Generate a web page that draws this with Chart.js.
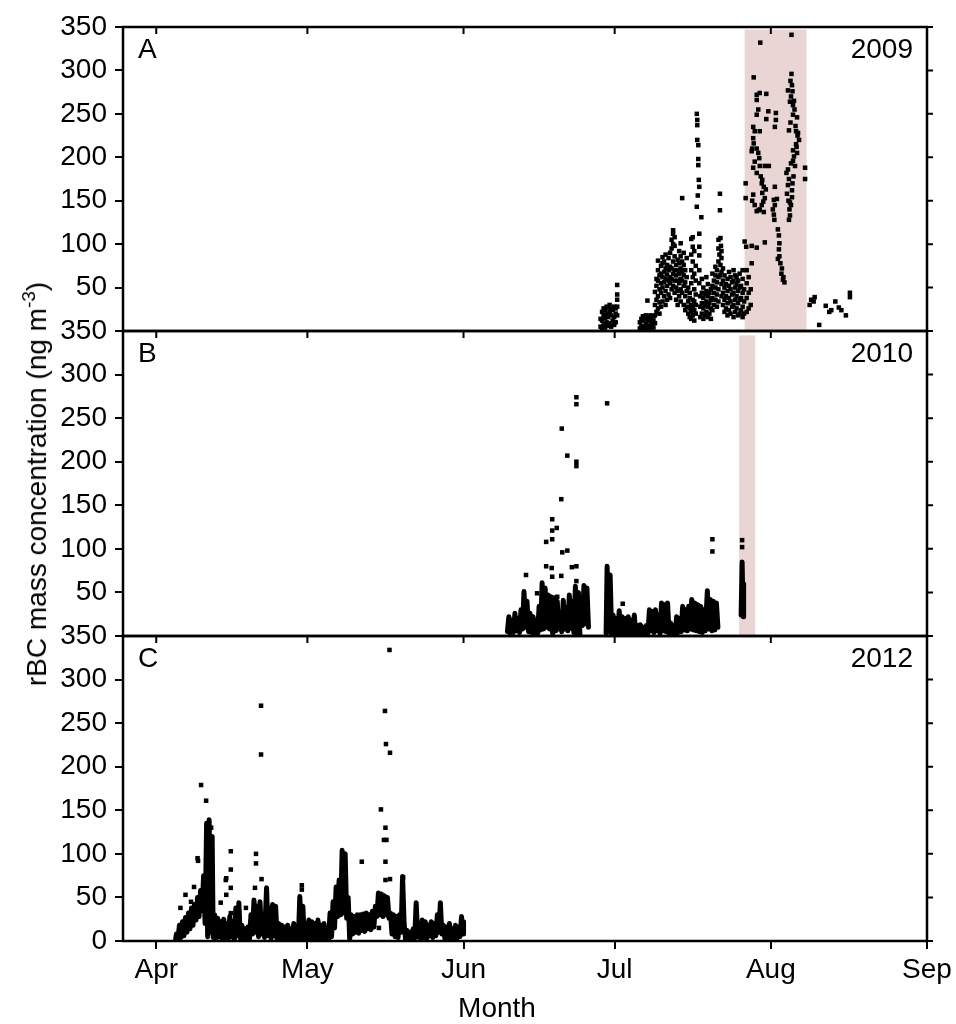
<!DOCTYPE html>
<html>
<head>
<meta charset="utf-8">
<script src="https://cdn.jsdelivr.net/npm/chart.js@4.4.1/dist/chart.umd.min.js"></script>
<style>
  html, body { margin: 0; padding: 0; background: #fff; }
  #wrap { position: relative; width: 956px; height: 1024px; overflow: hidden; }
  #wrap canvas { position: absolute; left: 0; }
  #ytitle {
    position: absolute; left: 37px; top: 484px;
    transform: translate(-50%, -50%) rotate(-90deg);
    white-space: nowrap; color: #000;
    font: 28px 'Liberation Sans', Arial, sans-serif; line-height: 28px;
  }
  #ytitle sup { font-size: 19px; vertical-align: 11px; line-height: 0; }
</style>
</head>
<body>
<div id="wrap">
  <canvas id="panelA" width="956" height="361" style="top:0px"></canvas>
  <canvas id="panelB" width="956" height="365" style="top:301px"></canvas>
  <canvas id="panelC" width="956" height="418" style="top:606px"></canvas>
  <div id="ytitle">rBC mass concentration (ng m<sup>-3</sup>)</div>
</div>
<script>
// x values are days after 1 April
const monthDays = [0, 30, 61, 91, 122, 153];
const monthLabels = ['Apr', 'May', 'Jun', 'Jul', 'Aug', 'Sep'];

// shaded periods: [start day, end day, top value]
const shade2009 = [116.8, 129.1, 347];
const shade2010 = [115.7, 118.9, 345];

// 2009 - [day, values...]
const rows2009 = [
  [88.2, 5, 14], [88.5, 3, 12, 22], [88.8, 8, 18, 26], [89.1, 4, 15, 24],
  [89.4, 10, 20, 28], [89.7, 6, 16, 27], [90.0, 9, 22, 30], [90.3, 5, 18, 25],
  [90.6, 12, 24], [90.9, 7, 16, 28], [91.2, 10, 20, 26], [91.5, 18, 28, 36, 42, 53],
  [96.0, 3, 10], [96.3, 6, 14], [96.6, 2, 12, 17], [96.9, 5, 15], [97.2, 8, 18],
  [97.5, 3, 13, 35], [97.8, 6, 16], [98.1, 2, 11, 18], [98.4, 7, 14], [98.7, 4, 12, 17],
  [99.0, 9, 18, 30, 45], [99.3, 22, 36, 52, 60], [99.6, 26, 40, 58, 70, 81],
  [99.9, 20, 33, 48, 64], [100.2, 28, 44, 55, 66, 75], [100.5, 34, 50, 62, 78, 85],
  [100.8, 40, 56, 68, 80], [101.1, 30, 46, 60, 72, 88], [101.4, 36, 52, 65, 76],
  [101.7, 42, 58, 70, 84], [102.0, 38, 55, 62, 74, 90], [102.3, 48, 60, 72, 95, 105],
  [102.6, 52, 66, 80, 100, 112, 116], [102.9, 44, 58, 70, 86, 98, 108],
  [103.2, 36, 50, 64, 76], [103.5, 30, 46, 58, 70, 82], [103.8, 40, 55, 66, 78, 92],
  [104.1, 34, 48, 60, 72, 86, 101], [104.4, 44, 58, 68, 80, 153], [104.7, 30, 52, 64, 76, 90],
  [105.0, 24, 40, 56, 70], [105.3, 28, 46, 62, 84], [105.6, 20, 34, 50], [105.9, 16, 26, 38, 44],
  [106.2, 14, 22, 30, 55, 70, 88, 106], [106.5, 18, 28, 36, 62, 80, 97, 108],
  [106.8, 12, 24, 34, 48, 66, 92], [107.1, 20, 30, 42, 58, 75],
  [107.8, 112, 97, 87, 70, 55], [108.0, 16, 28, 40], [108.3, 20, 32, 44, 60],
  [108.6, 14, 26, 38, 50], [108.9, 18, 30, 42], [109.2, 22, 34, 46, 62], [109.5, 16, 28, 40, 54],
  [109.8, 20, 32, 44], [110.1, 14, 26, 36, 48], [110.4, 24, 38, 52, 66], [110.7, 30, 44, 58],
  [111.0, 36, 50, 64, 74], [111.3, 28, 42, 56, 70], [111.6, 34, 48, 62, 80, 95, 105],
  [112.2, 40, 54, 68, 84, 92], [112.5, 30, 44, 58, 72], [112.8, 22, 36, 50, 64],
  [113.1, 26, 40, 54], [113.4, 18, 32, 46, 60], [113.7, 24, 38, 52, 68], [114.0, 20, 34, 48, 62],
  [114.3, 28, 42, 56], [114.6, 16, 30, 44, 58, 70], [114.9, 22, 36, 50, 64], [115.2, 26, 40, 54, 62],
  [115.5, 18, 32, 46, 58], [115.8, 20, 36, 50, 66], [116.1, 24, 38, 52], [116.4, 16, 28, 44, 60, 70],
  [116.7, 20, 34, 48], [117.2, 22, 38, 55, 70], [117.6, 26, 44, 62], [118.0, 30, 48]
];

// 2009 - single points [day, value]
const spikes2009 = [
  [107.3, 250], [107.4, 243], [107.4, 237], [107.4, 220], [107.6, 214], [107.6, 198],
  [107.6, 191], [107.7, 174], [107.8, 166], [107.5, 156], [107.3, 143], [108.2, 131],
  [111.9, 158], [111.9, 139], [112.0, 107], [112.1, 98], [111.8, 88], [112.0, 76], [111.9, 64]
];
const inShade2009 = [
  [119.9, 332], [118.6, 292], [119.2, 272], [119.8, 274], [121.1, 273], [119.2, 266], [119.5, 255],
  [119.2, 249], [121.5, 253], [123.0, 251], [121.1, 244], [123.0, 243], [122.8, 235], [118.5, 235],
  [118.8, 230], [119.8, 230], [118.5, 222], [118.6, 216], [118.3, 210], [118.2, 207], [119.2, 210],
  [119.5, 205], [119.7, 199], [118.8, 195], [119.8, 190], [120.8, 190], [121.6, 190], [118.5, 188],
  [119.2, 182], [120.0, 178], [120.3, 174], [120.2, 170], [120.6, 166], [121.0, 163], [120.3, 159],
  [120.8, 153], [120.5, 149], [120.2, 145], [119.8, 140], [118.5, 157], [118.3, 150], [118.8, 145],
  [117.0, 170], [117.0, 153], [119.2, 138], [119.6, 139], [120.6, 137], [122.8, 166], [122.6, 151],
  [122.8, 145], [122.4, 140], [122.6, 134], [122.7, 128], [123.2, 152], [123.4, 117], [123.6, 110],
  [123.7, 101], [123.6, 94], [123.7, 86], [123.4, 83], [123.9, 78], [124.2, 72], [124.1, 66],
  [124.5, 62], [124.4, 59], [124.7, 56], [116.8, 103], [117.1, 97], [118.2, 98], [119.2, 96],
  [120.8, 102], [118.2, 78],
  [126.1, 341], [126.1, 296], [126.2, 283], [125.4, 277], [126.0, 270], [125.8, 264], [126.4, 260],
  [126.4, 249], [127.2, 246], [125.6, 231], [127.0, 230], [127.3, 225], [127.6, 220], [126.4, 208],
  [126.6, 201], [126.4, 196], [126.0, 193], [125.4, 186], [128.8, 188], [128.8, 175], [125.1, 182],
  [125.6, 175], [125.4, 168], [126.2, 162], [126.2, 154], [125.8, 148], [125.7, 140], [125.8, 133],
  [125.6, 128], [127.0, 215], [127.2, 205], [126.8, 190], [126.5, 178], [127.1, 212], [125.9, 240],
  [126.7, 255], [125.2, 158], [125.5, 150], [126.0, 145], [126.3, 170], [126.9, 236], [127.4, 228],
  [126.6, 265], [125.9, 288], [126.3, 276]
];
const late2009 = [
  [129.7, 30], [130.0, 36], [130.7, 39], [130.5, 34], [131.6, 7], [132.9, 29], [133.6, 22],
  [134.0, 24], [134.8, 34], [135.5, 27], [136.0, 24], [136.9, 18], [137.7, 44], [137.7, 39]
];

// 2010 - dense record [day, value], null = gap
const band2010 = [
  [69.7, 5], [70.0, 22], [70.3, 3], [70.6, 18], [70.9, 4], [71.2, 26], [71.5, 6], [71.8, 20],
  [72.1, 4], [72.4, 30], [72.7, 8], [73.0, 51], [73.3, 10], [73.6, 40], [73.9, 5], [74.2, 26],
  [74.5, 4], [74.8, 22], [75.1, 2], [75.4, 18], [75.7, 3], [76.0, 34], [76.3, 7], [76.6, 61],
  [76.9, 8], [77.2, 55], [77.5, 10], [77.8, 47], [78.1, 8], [78.4, 45], [78.7, 3], [79.0, 44],
  [79.3, 6], [79.6, 40], [79.9, 8], [80.2, 20], [80.5, 5], [80.8, 41], [81.1, 8], [81.4, 33],
  [81.7, 6], [82.0, 47], [82.3, 9], [82.6, 40], [82.9, 4], [83.2, 57], [83.5, 3], [83.8, 50],
  [84.1, 2], [84.3, null], [84.6, 12], [84.9, 58], [85.2, 14], [85.5, 55], [85.8, 10], [86.0, null],
  [89.3, 3], [89.5, 80], [89.8, 5], [90.1, 70], [90.4, 2], [90.7, 24], [91.0, 3], [91.3, 20],
  [91.6, 1], [91.9, 29], [92.2, 3], [92.5, 22], [92.8, 2], [93.1, 20], [93.4, 4], [93.7, 22],
  [94.0, 2], [94.3, 18], [94.6, 3], [94.9, 24], [95.2, 1], [95.5, 12], [95.8, 0], [96.1, 13],
  [96.4, 2], [96.7, 10], [97.0, 0], [97.3, 12], [97.6, 3], [97.9, 30], [98.2, 6], [98.5, 28],
  [98.8, 4], [99.1, 30], [99.4, 6], [99.7, 24], [100.0, 3], [100.3, 38], [100.6, 6], [100.9, 36],
  [101.2, 5], [101.5, 38], [101.8, 3], [102.1, 15], [102.4, 0], [102.7, 12], [103.0, 1], [103.3, 22],
  [103.6, 4], [103.9, 20], [104.2, 5], [104.5, 34], [104.8, 7], [105.1, 30], [105.4, 6], [105.7, 34],
  [106.0, 8], [106.3, 42], [106.6, 7], [106.9, 38], [107.2, 6], [107.5, 36], [107.8, 5], [108.1, 34],
  [108.4, 4], [108.7, 30], [109.0, 6], [109.4, 52], [109.7, 8], [110.0, 42], [110.3, 6], [110.6, 40],
  [110.9, 7], [111.2, 38], [111.5, 10], [112.0, null],
  [116.1, 24], [116.3, 85], [116.5, 22], [116.6, 60]
];
const points2010 = [
  [83.4, 274], [83.4, 266], [89.5, 267], [80.5, 238], [81.6, 207], [83.4, 200], [83.4, 195],
  [80.4, 157], [78.6, 134], [78.6, 121], [79.5, 124], [78.6, 111], [77.4, 108], [80.6, 96],
  [81.6, 98], [77.4, 80], [78.5, 78], [82.5, 79], [83.4, 80], [73.4, 70], [78.6, 68], [80.4, 69],
  [83.4, 63], [75.6, 49], [79.6, 45], [92.6, 37], [110.4, 111], [110.4, 97], [116.3, 110], [116.3, 102]
];

// 2012 - dense record [day, value]
const band2012 = [
  [3.8, 0], [4.0, 8], [4.3, 2], [4.6, 18], [4.9, 4], [5.2, 22], [5.5, 6], [5.8, 27], [6.1, 10],
  [6.4, 32], [6.7, 14], [7.0, 38], [7.3, 18], [7.6, 42], [7.9, 24], [8.2, 50], [8.5, 28], [8.8, 58],
  [9.1, 35], [9.4, 75], [9.7, 20], [10.0, 135], [10.2, 5], [10.5, 139], [10.8, 10], [11.1, 120],
  [11.3, 4], [11.6, 30], [11.9, 3], [12.2, 26], [12.5, 5], [12.8, 22], [13.1, 2], [13.4, 25],
  [13.7, 4], [14.0, 20], [14.3, 3], [14.6, 28], [14.9, 5], [15.2, 22], [15.5, 2], [15.8, 38],
  [16.1, 6], [16.4, 44], [16.7, 3], [17.0, 18], [17.3, 1], [17.6, 14], [17.9, 3], [18.2, 16],
  [18.5, 2], [18.8, 30], [19.1, 8], [19.4, 47], [19.7, 10], [20.0, 40], [20.3, 5], [20.6, 45],
  [20.9, 8], [21.2, 30], [21.5, 4], [21.9, 61], [22.2, 6], [22.5, 38], [22.8, 3], [23.1, 42],
  [23.4, 6], [23.7, 40], [24.0, 2], [24.3, 20], [24.6, 1], [24.9, 18], [25.2, 2], [25.5, 16],
  [25.8, 0], [26.1, 18], [26.4, 2], [26.7, 14], [27.0, 1], [27.3, 20], [27.6, 3], [27.9, 12],
  [28.2, 2], [28.5, 51], [28.8, 4], [29.1, 40], [29.4, 2], [29.7, 20], [30.0, 1], [30.3, 24],
  [30.6, 3], [30.9, 22], [31.2, 2], [31.5, 20], [31.8, 1], [32.1, 24], [32.4, 3], [32.7, 18],
  [33.0, 1], [33.3, 20], [33.6, 2], [33.9, 8], [34.2, 1], [34.5, 32], [34.8, 5], [35.1, 45],
  [35.4, 15], [35.7, 62], [36.0, 28], [36.3, 70], [36.6, 30], [36.9, 104], [37.2, 32], [37.5, 100],
  [37.8, 26], [38.1, 50], [38.4, 2], [38.7, 30], [39.0, 8], [39.3, 28], [39.6, 10], [39.9, 30],
  [40.2, 9], [40.5, 30], [40.8, 12], [41.1, 31], [41.4, 11], [41.7, 32], [42.0, 14], [42.3, 30],
  [42.6, 13], [42.9, 34], [43.2, 16], [43.5, 40], [43.8, 28], [44.1, 55], [44.4, 30], [44.7, 54],
  [45.0, 28], [45.3, 52], [45.6, 30], [45.9, 50], [46.2, 26], [46.5, 32], [46.8, 8], [47.1, 30],
  [47.4, 5], [47.7, 28], [48.0, 4], [48.3, 30], [48.6, 10], [48.9, 74], [49.2, 20], [49.5, 2],
  [49.8, 12], [50.1, 0], [50.4, 10], [50.7, 2], [51.0, 14], [51.3, 3], [51.6, 44], [51.9, 5],
  [52.2, 20], [52.5, 2], [52.8, 24], [53.1, 4], [53.4, 22], [53.7, 3], [54.0, 18], [54.3, 6],
  [54.6, 22], [54.9, 4], [55.2, 20], [55.5, 6], [55.8, 30], [56.1, 10], [56.4, 44], [56.7, 8],
  [57.0, 18], [57.3, 3], [57.6, 16], [57.9, 2], [58.2, 20], [58.5, 4], [58.8, 14], [59.1, 2],
  [59.4, 18], [59.7, 3], [60.0, 16], [60.3, 5], [60.6, 28], [60.9, 8], [61.0, 22]
];
const points2012 = [
  [8.9, 179], [9.9, 161], [20.8, 270], [20.8, 214], [46.3, 334], [45.4, 264], [45.6, 226],
  [46.4, 216], [44.6, 151], [45.5, 130], [45.2, 116], [45.7, 116], [45.5, 91], [45.5, 70],
  [46.4, 71], [40.8, 91], [49.0, 73], [14.8, 103], [14.8, 82], [14.8, 61], [14.8, 32],
  [8.2, 95], [8.3, 92], [7.5, 62], [5.8, 53], [4.8, 38], [6.9, 45], [7.1, 37], [19.8, 100],
  [19.8, 89], [20.9, 71], [19.6, 61], [17.8, 38], [12.8, 44], [13.9, 53], [13.9, 72], [13.8, 70],
  [28.9, 64], [28.9, 59], [44.2, 15],
  [10.1, 125], [10.1, 110], [10.1, 95], [10.6, 120], [10.6, 100], [10.6, 85], [10.9, 130], [10.9, 70]
];

const toXY = pairs => pairs.map(([x, y]) => ({x, y}));
const fromRows = rows => rows.flatMap(([d, ...vs]) => vs.map(v => ({x: d, y: v})));

const fontFamily = "'Liberation Sans', Arial, sans-serif";
const tickFont = {family: fontFamily, size: 28};

const framePlugin = {
  id: 'frame',
  beforeDatasetsDraw(chart, args, o) {
    if (!o.shade) return;
    const {ctx, chartArea: a, scales: {x, y}} = chart;
    const x0 = x.getPixelForValue(o.shade[0]);
    const x1 = x.getPixelForValue(o.shade[1]);
    const yt = y.getPixelForValue(o.shade[2]);
    ctx.save();
    ctx.fillStyle = '#ead5d5';
    ctx.fillRect(x0, yt, x1 - x0, a.bottom - yt);
    ctx.restore();
  },
  afterDraw(chart, args, o) {
    const {ctx, chartArea: a, scales: {x, y}} = chart;
    ctx.save();
    ctx.strokeStyle = '#000';
    ctx.lineWidth = 2.5;
    ctx.strokeRect(a.left, a.top, a.right - a.left, a.bottom - a.top);
    ctx.lineWidth = 2;
    ctx.beginPath();
    monthDays.forEach(d => {
      const px = x.getPixelForValue(d);
      ctx.moveTo(px, a.top);
      ctx.lineTo(px, a.top + 7);
    });
    y.ticks.forEach(t => {
      const py = y.getPixelForValue(t.value);
      ctx.moveTo(a.right, py);
      ctx.lineTo(a.right + 6, py);
    });
    ctx.stroke();
    ctx.fillStyle = '#000';
    ctx.font = '28px ' + fontFamily;
    ctx.textBaseline = 'middle';
    ctx.textAlign = 'left';
    ctx.fillText(o.letter, a.left + 15, a.top + 23);
    ctx.textAlign = 'right';
    ctx.fillText(o.year, a.right - 14, a.top + 23);
    if (o.xTitle) {
      // x title sits a little left of the plot centre
      ctx.textAlign = 'center';
      ctx.textBaseline = 'alphabetic';
      ctx.fillText(o.xTitle, a.left + 374, a.bottom + 76);
    }
    ctx.restore();
  }
};

function makePanel(id, datasets, frame, showX, padding) {
  return new Chart(document.getElementById(id), {
    type: 'scatter',
    data: {datasets},
    options: {
      responsive: false,
      animation: false,
      layout: {padding},
      plugins: {legend: {display: false}, tooltip: {enabled: false}, frame},
      scales: {
        x: {
          type: 'linear',
          min: -6.6,
          max: 153,
          display: showX,
          afterBuildTicks: scale => { scale.ticks = monthDays.map(v => ({value: v})); },
          afterFit: scale => { scale.height = showX ? 83 : 0; },
          grid: {drawOnChartArea: false, drawTicks: true, tickLength: 8, lineWidth: 2, color: '#000'},
          border: {display: false},
          ticks: {
            font: tickFont, color: '#000', padding: 4, autoSkip: false, maxRotation: 0,
            callback: (v, i) => monthLabels[i]
          }
        },
        y: {
          type: 'linear',
          min: 0,
          max: 350,
          afterFit: scale => { scale.width = 123; },
          grid: {drawOnChartArea: false, drawTicks: true, tickLength: 8, lineWidth: 2, color: '#000'},
          border: {display: false},
          ticks: {
            stepSize: 50, autoSkip: false, font: tickFont, color: '#000', padding: 8,
            callback: v => (v === 0 && !showX) ? '' : v
          }
        }
      }
    },
    plugins: [framePlugin]
  });
}

const pointStyle = {
  showLine: false, pointStyle: 'rect', pointRadius: 3.2,
  backgroundColor: '#000', borderWidth: 0
};
const bandStyle = {
  showLine: true, pointRadius: 0, borderColor: '#000', borderWidth: 5,
  borderJoinStyle: 'round', borderCapStyle: 'round', tension: 0, spanGaps: false
};

makePanel('panelA', [
  {...pointStyle, data: [...fromRows(rows2009), ...toXY(spikes2009), ...toXY(inShade2009), ...toXY(late2009)]}
], {letter: 'A', year: '2009', shade: shade2009}, false, {top: 27, bottom: 30, left: 0, right: 29});

makePanel('panelB', [
  {...bandStyle, data: toXY(band2010)},
  {...pointStyle, data: toXY(points2010)}
], {letter: 'B', year: '2010', shade: shade2010}, false, {top: 30, bottom: 30, left: 0, right: 29});

makePanel('panelC', [
  {...bandStyle, data: toXY(band2012)},
  {...pointStyle, data: toXY(points2012)}
], {letter: 'C', year: '2012', shade: null, xTitle: 'Month'}, true, {top: 30, bottom: 0, left: 0, right: 29});
</script>
</body>
</html>
